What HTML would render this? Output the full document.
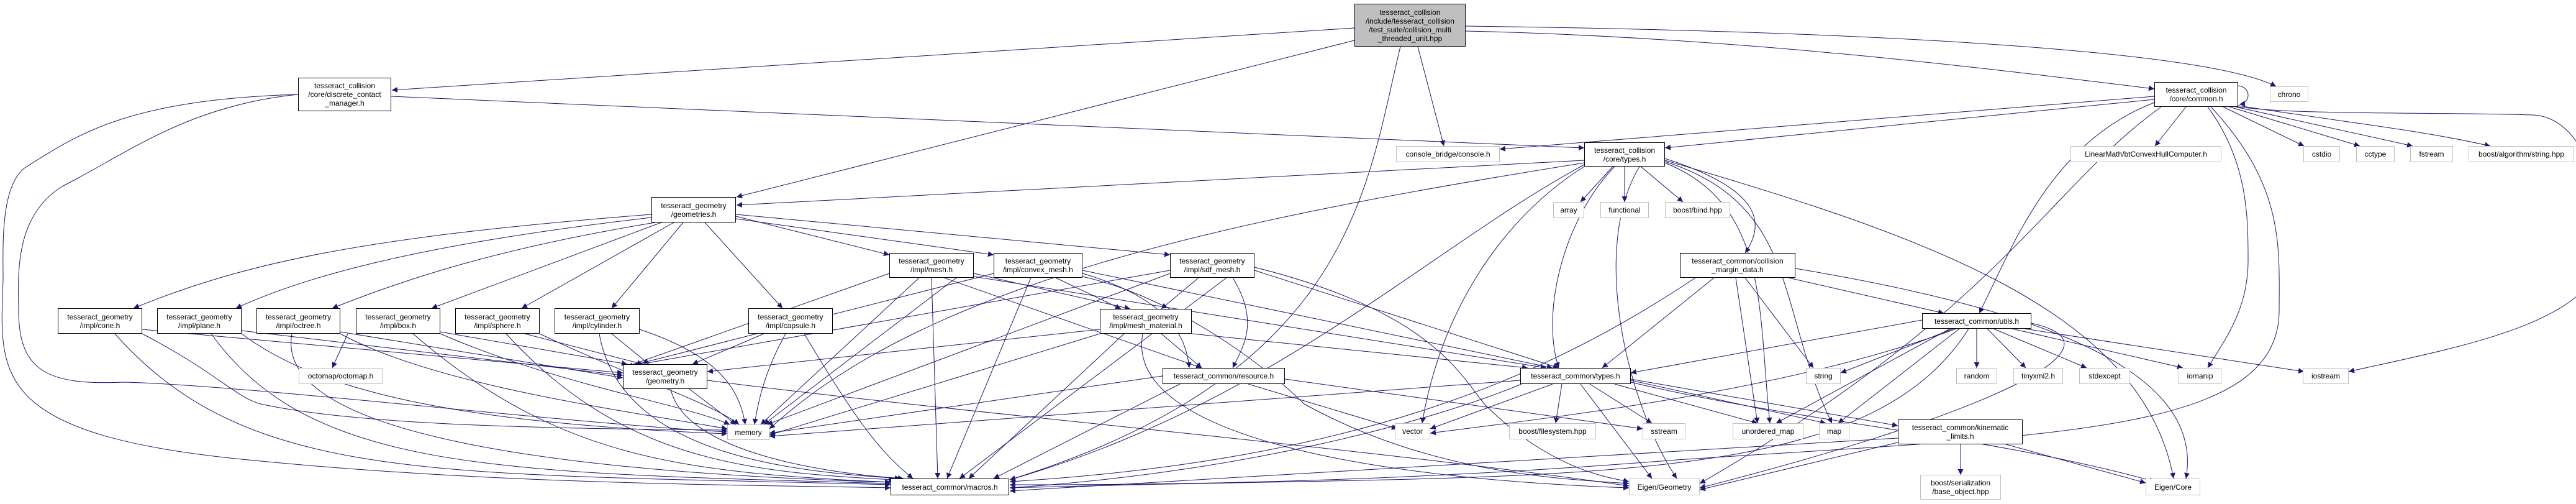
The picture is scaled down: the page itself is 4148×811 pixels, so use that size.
<!DOCTYPE html>
<html><head><meta charset="utf-8"><style>
html,body{margin:0;padding:0;background:#fff;}
#c{position:relative;width:4148px;height:811px;overflow:hidden;}
svg{position:absolute;left:0;top:0;}
.n{position:absolute;box-sizing:border-box;border:1px solid #000;background:#fff;display:flex;align-items:center;justify-content:center;text-align:center;font-family:"Liberation Sans",sans-serif;font-size:12px;line-height:14px;color:#000;white-space:nowrap;}
.g{border-color:#bfbfbf;}
.top{background:#bfbfbf;border-color:#000;}
</style></head><body><div id="c">
<svg width="4148" height="811" viewBox="0 0 4148 811">
<defs><marker id="a" viewBox="0 0 10 10" refX="10" refY="5" markerWidth="9" markerHeight="9" orient="auto" markerUnits="userSpaceOnUse"><path d="M0,0 L10,5 L0,10 z" fill="#191970"/></marker></defs>
<g stroke="#191970" stroke-width="1" fill="none" marker-end="url(#a)">
<line x1="2181" y1="45" x2="631" y2="145"/>
<line x1="2181" y1="65" x2="1186" y2="317"/>
<line x1="2283" y1="75" x2="2325" y2="235"/>
<path d="M2255,75 C2200,300 2180,600 1626,772"/>
<path d="M2360,50 C2800,60 3200,110 3469,143"/>
<path d="M2360,42 C3000,50 3550,80 3665,139"/>
<line x1="630" y1="155" x2="2551" y2="238"/>
<path d="M480,152 C300,170 200,250 100,300 C20,350 30,450 30,500 C30,600 80,620 200,615 C400,620 900,680 1171,695"/>
<path d="M480,152 C200,160 120,220 40,270 C0,300 5,400 5,450 C0,600 -20,700 400,740 C800,780 1200,780 1434,785"/>
<line x1="3469" y1="155" x2="2415" y2="240"/>
<line x1="3469" y1="160" x2="2681" y2="238"/>
<line x1="3520" y1="172" x2="3470" y2="235"/>
<line x1="3580" y1="172" x2="3710" y2="235"/>
<line x1="3590" y1="172" x2="3800" y2="235"/>
<line x1="3600" y1="172" x2="3885" y2="235"/>
<path d="M3604,170 C3800,200 3900,210 4010,235"/>
<path d="M3604,172 C3700,185 3900,180 4080,185 C4150,190 4190,280 4190,400 C4190,520 3950,560 3782,598"/>
<path d="M3555,172 C3620,260 3620,350 3620,420 C3620,500 3580,550 3555,592"/>
<path d="M3469,165 C3300,230 3240,400 3187,504"/>
<path d="M3560,172 C3680,300 3670,400 3670,500 C3670,700 3300,700 2700,740 C2200,780 1800,780 1626,780"/>
<path d="M3480,172 C3300,300 3220,500 2737,778"/>
<line x1="2551" y1="258" x2="1186" y2="330"/>
<line x1="2597" y1="268" x2="2545" y2="325"/>
<line x1="2616" y1="268" x2="2616" y2="325"/>
<line x1="2642" y1="268" x2="2710" y2="325"/>
<path d="M2600,268 C2520,350 2480,500 2510,592"/>
<path d="M2681,255 C2820,300 2850,350 2810,407"/>
<path d="M2551,268 C2420,350 2320,500 2290,681"/>
<path d="M2551,262 C2000,350 1500,450 1239,690"/>
<path d="M2551,265 C2300,400 2050,650 1626,772"/>
<path d="M2681,260 C2900,330 2860,500 2950,681"/>
<path d="M2681,262 C2850,330 2830,500 2850,681"/>
<path d="M2681,258 C3100,380 3450,500 3500,770"/>
<path d="M2640,268 C2560,400 2620,650 2700,770"/>
<path d="M1049,345 C600,380 400,420 215,496"/>
<path d="M1049,350 C700,390 500,440 380,496"/>
<path d="M1055,358 C800,400 650,450 535,496"/>
<line x1="1065" y1="358" x2="695" y2="496"/>
<line x1="1085" y1="358" x2="840" y2="496"/>
<line x1="1100" y1="358" x2="985" y2="496"/>
<line x1="1135" y1="358" x2="1260" y2="496"/>
<line x1="1185" y1="348" x2="1432" y2="410"/>
<line x1="1185" y1="352" x2="1600" y2="410"/>
<line x1="1185" y1="345" x2="1884" y2="410"/>
<line x1="229" y1="530" x2="1003" y2="600"/>
<line x1="389" y1="532" x2="1003" y2="604"/>
<line x1="548" y1="534" x2="1003" y2="608"/>
<line x1="709" y1="534" x2="1010" y2="586"/>
<line x1="845" y1="537" x2="1035" y2="586"/>
<line x1="985" y1="537" x2="1045" y2="586"/>
<line x1="1230" y1="537" x2="1115" y2="586"/>
<path d="M229,537 C350,600 380,640 420,650 C600,690 1000,690 1171,692"/>
<path d="M389,537 C500,620 700,680 1171,698"/>
<path d="M548,537 C700,620 1000,660 1171,690"/>
<path d="M709,537 C900,620 1100,650 1175,683"/>
<path d="M869,537 C1000,600 1150,650 1190,683"/>
<path d="M1030,530 C1150,570 1190,620 1200,683"/>
<path d="M1265,537 C1230,600 1220,650 1215,683"/>
<path d="M185,537 C400,780 700,760 1434,780"/>
<path d="M340,537 C500,760 800,760 1434,778"/>
<path d="M470,537 C440,700 900,760 1434,776"/>
<path d="M665,537 C900,740 1100,760 1434,776"/>
<path d="M815,537 C1000,740 1200,760 1440,772"/>
<path d="M965,537 C1000,740 1300,760 1450,770"/>
<path d="M1295,537 C1380,680 1420,730 1470,770"/>
<line x1="560" y1="537" x2="535" y2="592"/>
<line x1="1110" y1="626" x2="1185" y2="683"/>
<path d="M1080,626 C1100,720 1300,760 1455,770"/>
<path d="M1139,612 C1500,660 2200,720 2623,782"/>
<line x1="1432" y1="440" x2="1003" y2="592"/>
<line x1="1600" y1="440" x2="1010" y2="590"/>
<line x1="1884" y1="435" x2="1020" y2="588"/>
<line x1="1480" y1="447" x2="1225" y2="683"/>
<line x1="1540" y1="447" x2="1230" y2="683"/>
<line x1="1884" y1="440" x2="1235" y2="683"/>
<line x1="1500" y1="447" x2="1510" y2="770"/>
<line x1="1660" y1="447" x2="1525" y2="770"/>
<line x1="1975" y1="447" x2="1545" y2="770"/>
<line x1="1568" y1="440" x2="1820" y2="497"/>
<line x1="1700" y1="447" x2="1805" y2="497"/>
<line x1="1930" y1="447" x2="1870" y2="497"/>
<line x1="1520" y1="447" x2="1935" y2="592"/>
<path d="M1743,440 C1880,480 1910,540 1915,592"/>
<path d="M1985,447 C2030,520 2000,560 1985,592"/>
<line x1="1568" y1="445" x2="2490" y2="592"/>
<line x1="1743" y1="435" x2="2500" y2="592"/>
<line x1="2020" y1="435" x2="2510" y2="592"/>
<path d="M1743,445 C1900,480 2050,600 2100,650 C2300,760 2500,770 2623,778"/>
<path d="M2020,430 C2300,500 2350,600 2390,650 C2500,760 2600,770 2623,775"/>
<line x1="1919" y1="537" x2="2460" y2="592"/>
<line x1="1870" y1="537" x2="1935" y2="592"/>
<line x1="1771" y1="530" x2="1139" y2="598"/>
<line x1="1810" y1="537" x2="1560" y2="770"/>
<line x1="1771" y1="537" x2="1239" y2="700"/>
<path d="M1840,537 C1810,700 2200,770 2623,785"/>
<line x1="1872" y1="605" x2="1239" y2="697"/>
<line x1="1900" y1="618" x2="1600" y2="770"/>
<line x1="2010" y1="618" x2="2250" y2="690"/>
<line x1="2069" y1="610" x2="2645" y2="690"/>
<line x1="2500" y1="618" x2="2303" y2="690"/>
<line x1="2448" y1="612" x2="1239" y2="702"/>
<path d="M2450,618 C2300,680 2000,760 1626,785"/>
<line x1="2515" y1="618" x2="2505" y2="681"/>
<line x1="2560" y1="618" x2="2660" y2="681"/>
<line x1="2600" y1="618" x2="2830" y2="681"/>
<line x1="2626" y1="612" x2="2940" y2="681"/>
<line x1="2545" y1="618" x2="2660" y2="770"/>
<path d="M2626,615 C2900,680 3200,700 3470,775"/>
<line x1="2626" y1="610" x2="3056" y2="685"/>
<line x1="2760" y1="447" x2="2580" y2="592"/>
<line x1="2880" y1="447" x2="3130" y2="504"/>
<line x1="2810" y1="447" x2="2920" y2="592"/>
<path d="M2730,447 C2500,600 2200,740 1626,775"/>
<line x1="2795" y1="447" x2="2830" y2="681"/>
<path d="M2891,432 C3300,500 3550,600 3520,770"/>
<line x1="3095" y1="515" x2="2626" y2="600"/>
<line x1="3145" y1="529" x2="2964" y2="600"/>
<line x1="3183" y1="529" x2="3183" y2="592"/>
<line x1="3200" y1="529" x2="3262" y2="592"/>
<line x1="3210" y1="529" x2="3360" y2="592"/>
<line x1="3240" y1="529" x2="3515" y2="592"/>
<line x1="3260" y1="529" x2="3710" y2="598"/>
<path d="M3150,529 C2900,620 2600,660 2303,697"/>
<line x1="3155" y1="529" x2="2960" y2="681"/>
<path d="M3170,529 C3000,800 2500,760 1626,785"/>
<path d="M3271,520 C3450,560 3150,680 2737,785"/>
<line x1="3140" y1="529" x2="2860" y2="681"/>
<line x1="3157" y1="715" x2="3157" y2="764"/>
<line x1="3230" y1="715" x2="3455" y2="777"/>
<line x1="3056" y1="712" x2="2737" y2="788"/>
<line x1="3056" y1="705" x2="1626" y2="790"/>
<path d="M3604,138 C3625,140 3625,165 3606,168"/>
</g></svg>
<div class="n top" style="left:2181px;top:6px;width:179px;height:69px;">tesseract_collision<br>/include/tesseract_collision<br>/test_suite/collision_multi<br>_threaded_unit.hpp</div>
<div class="n" style="left:480px;top:125px;width:150px;height:54px;">tesseract_collision<br>/core/discrete_contact<br>_manager.h</div>
<div class="n" style="left:3469px;top:132px;width:135px;height:40px;">tesseract_collision<br>/core/common.h</div>
<div class="n g" style="left:3655px;top:139px;width:62px;height:25px;">chrono</div>
<div class="n g" style="left:2248px;top:235px;width:167px;height:26px;">console_bridge/console.h</div>
<div class="n" style="left:2551px;top:229px;width:130px;height:39px;">tesseract_collision<br>/core/types.h</div>
<div class="n g" style="left:3334px;top:235px;width:243px;height:26px;">LinearMath/btConvexHullComputer.h</div>
<div class="n g" style="left:3709px;top:235px;width:59px;height:26px;">cstdio</div>
<div class="n g" style="left:3794px;top:235px;width:62px;height:26px;">cctype</div>
<div class="n g" style="left:3881px;top:235px;width:69px;height:26px;">fstream</div>
<div class="n g" style="left:3975px;top:235px;width:170px;height:26px;">boost/algorithm/string.hpp</div>
<div class="n g" style="left:2501px;top:325px;width:50px;height:26px;">array</div>
<div class="n g" style="left:2577px;top:325px;width:78px;height:26px;">functional</div>
<div class="n g" style="left:2681px;top:325px;width:105px;height:26px;">boost/bind.hpp</div>
<div class="n" style="left:1049px;top:317px;width:136px;height:41px;">tesseract_geometry<br>/geometries.h</div>
<div class="n" style="left:1432px;top:407px;width:136px;height:40px;">tesseract_geometry<br>/impl/mesh.h</div>
<div class="n" style="left:1600px;top:407px;width:143px;height:40px;">tesseract_geometry<br>/impl/convex_mesh.h</div>
<div class="n" style="left:1884px;top:407px;width:136px;height:40px;">tesseract_geometry<br>/impl/sdf_mesh.h</div>
<div class="n" style="left:2705px;top:407px;width:186px;height:40px;">tesseract_common/collision<br>_margin_data.h</div>
<div class="n" style="left:93px;top:496px;width:136px;height:41px;">tesseract_geometry<br>/impl/cone.h</div>
<div class="n" style="left:253px;top:496px;width:136px;height:41px;">tesseract_geometry<br>/impl/plane.h</div>
<div class="n" style="left:413px;top:496px;width:135px;height:41px;">tesseract_geometry<br>/impl/octree.h</div>
<div class="n" style="left:573px;top:496px;width:136px;height:41px;">tesseract_geometry<br>/impl/box.h</div>
<div class="n" style="left:733px;top:496px;width:136px;height:41px;">tesseract_geometry<br>/impl/sphere.h</div>
<div class="n" style="left:893px;top:496px;width:137px;height:41px;">tesseract_geometry<br>/impl/cylinder.h</div>
<div class="n" style="left:1205px;top:496px;width:136px;height:41px;">tesseract_geometry<br>/impl/capsule.h</div>
<div class="n" style="left:1771px;top:497px;width:148px;height:40px;">tesseract_geometry<br>/impl/mesh_material.h</div>
<div class="n" style="left:3095px;top:504px;width:176px;height:25px;">tesseract_common/utils.h</div>
<div class="n g" style="left:481px;top:592px;width:135px;height:26px;">octomap/octomap.h</div>
<div class="n" style="left:1003px;top:586px;width:136px;height:40px;">tesseract_geometry<br>/geometry.h</div>
<div class="n" style="left:1872px;top:592px;width:197px;height:26px;">tesseract_common/resource.h</div>
<div class="n" style="left:2448px;top:592px;width:178px;height:26px;">tesseract_common/types.h</div>
<div class="n g" style="left:2908px;top:592px;width:56px;height:26px;">string</div>
<div class="n g" style="left:3150px;top:592px;width:66px;height:26px;">random</div>
<div class="n g" style="left:3242px;top:592px;width:80px;height:26px;">tinyxml2.h</div>
<div class="n g" style="left:3348px;top:592px;width:82px;height:26px;">stdexcept</div>
<div class="n g" style="left:3508px;top:592px;width:69px;height:26px;">iomanip</div>
<div class="n g" style="left:3708px;top:592px;width:74px;height:26px;">iostream</div>
<div class="n g" style="left:1171px;top:683px;width:68px;height:25px;">memory</div>
<div class="n g" style="left:2246px;top:681px;width:57px;height:26px;">vector</div>
<div class="n g" style="left:2430px;top:681px;width:140px;height:26px;">boost/filesystem.hpp</div>
<div class="n g" style="left:2645px;top:681px;width:69px;height:26px;">sstream</div>
<div class="n g" style="left:2790px;top:681px;width:114px;height:26px;">unordered_map</div>
<div class="n g" style="left:2929px;top:681px;width:49px;height:26px;">map</div>
<div class="n" style="left:3056px;top:675px;width:201px;height:40px;">tesseract_common/kinematic<br>_limits.h</div>
<div class="n" style="left:1434px;top:770px;width:191px;height:27px;">tesseract_common/macros.h</div>
<div class="n g" style="left:2623px;top:770px;width:114px;height:27px;">Eigen/Geometry</div>
<div class="n g" style="left:3092px;top:764px;width:130px;height:40px;">boost/serialization<br>/base_object.hpp</div>
<div class="n g" style="left:3455px;top:770px;width:88px;height:27px;">Eigen/Core</div>
</div></body></html>
